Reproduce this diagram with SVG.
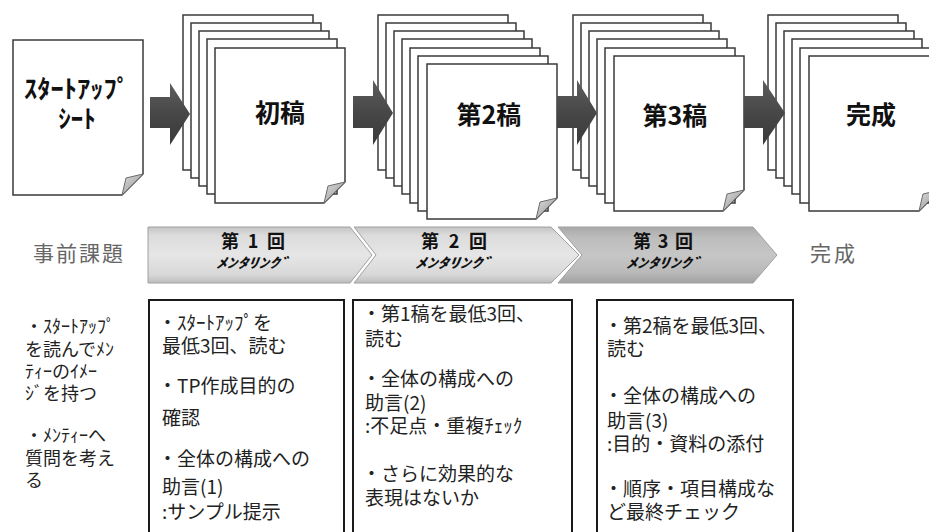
<svg xmlns="http://www.w3.org/2000/svg" width="929" height="532" viewBox="0 0 929 532">
<defs>
<linearGradient id="arrowGrad" x1="0" y1="0" x2="0" y2="1"><stop offset="0" stop-color="#5e5e5e"/><stop offset="0.5" stop-color="#474747"/><stop offset="1" stop-color="#3a3a3a"/></linearGradient>
<linearGradient id="foldGrad" x1="0" y1="0" x2="1" y2="1"><stop offset="0" stop-color="#e0e0e0"/><stop offset="1" stop-color="#8a8a8a"/></linearGradient>
<linearGradient id="bandLight" x1="0" y1="0" x2="0" y2="1"><stop offset="0" stop-color="#c4c4c4"/><stop offset="0.15" stop-color="#dcdcdc"/><stop offset="0.5" stop-color="#e6e6e6"/><stop offset="0.85" stop-color="#d8d8d8"/><stop offset="1" stop-color="#bdbdbd"/></linearGradient>
<linearGradient id="bandDark" x1="0" y1="0" x2="0" y2="1"><stop offset="0" stop-color="#a9a9a9"/><stop offset="0.2" stop-color="#bdbdbd"/><stop offset="0.5" stop-color="#c6c6c6"/><stop offset="0.8" stop-color="#bababa"/><stop offset="1" stop-color="#a2a2a2"/></linearGradient>
</defs>
<style>
.page{fill:#fff;stroke:#3a3a3a;stroke-width:1.5}
.fold{fill:url(#foldGrad);stroke:#6a6a6a;stroke-width:1}
.doc{font-family:"Noto Sans CJK JP",sans-serif;font-weight:bold;font-size:25px;fill:#111;text-anchor:middle}
.box{fill:#fff;stroke:#1a1a1a;stroke-width:2}
.t{font-family:"Noto Sans CJK JP",sans-serif;font-size:19px;fill:#222}
.tl{font-family:"Noto Sans CJK JP",sans-serif;font-size:18px;fill:#222}
.lbl{font-family:"Noto Sans CJK JP",sans-serif;font-size:21px;fill:#666}
.chn{font-family:"Noto Sans CJK JP",sans-serif;font-size:18px;font-weight:bold;fill:#111;text-anchor:middle}
.chs{font-family:"Noto Sans CJK JP",sans-serif;font-size:14px;font-weight:bold;font-style:italic;fill:#111;text-anchor:middle}
.arrow{fill:url(#arrowGrad)}
.band{stroke:#a0a0a0;stroke-width:1}
</style>
<rect width="929" height="532" fill="#fff"/>

<g id="startup-sheet">
<path class="page" d="M13 40 H143 V174 L122 195 H13 Z"/>
<path class="fold" d="M122 195 L126 178 L143 174 Z"/>
<text class="doc" x="77" y="98" font-size="24" textLength="106" lengthAdjust="spacingAndGlyphs">ｽﾀｰﾄｱｯﾌﾟ</text>
<text class="doc" x="77" y="128" font-size="24">ｼｰﾄ</text>
</g>

<g id="draft1">
<rect class="page" x="183" y="15" width="130" height="155"/>
<rect class="page" x="191" y="23" width="130" height="155"/>
<rect class="page" x="199" y="31" width="130" height="155"/>
<rect class="page" x="207" y="39" width="130" height="155"/>
<path class="page" d="M215 48 H345 V182 L324 203 H215 Z"/>
<path class="fold" d="M324 203 L328 186 L345 182 Z"/>
<text class="doc" x="280" y="122">初稿</text>
</g>

<g id="draft2">
<rect class="page" x="378" y="15" width="130" height="155"/>
<rect class="page" x="386" y="23" width="130" height="155"/>
<rect class="page" x="394" y="31" width="130" height="155"/>
<rect class="page" x="402" y="39" width="130" height="155"/>
<rect class="page" x="410" y="48" width="130" height="155"/>
<rect class="page" x="418" y="56" width="130" height="155"/>
<path class="page" d="M427 64 H557 V198 L536 219 H427 Z"/>
<path class="fold" d="M536 219 L540 202 L557 198 Z"/>
<text class="doc" x="489" y="124">第2稿</text>
</g>

<g id="draft3">
<rect class="page" x="573" y="15" width="130" height="155"/>
<rect class="page" x="581" y="23" width="130" height="155"/>
<rect class="page" x="589" y="31" width="130" height="155"/>
<rect class="page" x="597" y="39" width="130" height="155"/>
<rect class="page" x="605" y="48" width="130" height="155"/>
<path class="page" d="M614 56 H744 V190 L723 211 H614 Z"/>
<path class="fold" d="M723 211 L727 194 L744 190 Z"/>
<text class="doc" x="675" y="125">第3稿</text>
</g>

<g id="final">
<rect class="page" x="768" y="15" width="130" height="155"/>
<rect class="page" x="776" y="23" width="130" height="155"/>
<rect class="page" x="784" y="31" width="130" height="155"/>
<rect class="page" x="792" y="39" width="130" height="155"/>
<rect class="page" x="800" y="48" width="130" height="155"/>
<path class="page" d="M809 56 H940 V190 L919 211 H809 Z"/>
<path class="fold" d="M919 211 L923 194 L940 190 Z"/>
<text class="doc" x="871" y="124">完成</text>
</g>

<g id="connectors">
<path class="arrow" d="M150 97 H170 V83 L190 114 L170 145 V128 H150 Z"/>
<path class="arrow" d="M353 96 H373 V80 L393 113 L373 145 V128 H353 Z"/>
<path class="arrow" d="M557 96 H577 V80 L597 113 L577 145 V128 H557 Z"/>
<path class="arrow" d="M744 96 H763 V80 L785 113 L763 145 V128 H744 Z"/>
</g>

<g id="label-pre">
<text class="lbl" x="33" y="261" textLength="90" lengthAdjust="spacing">事前課題</text>
</g>

<g id="mentoring1">
<path class="band" fill="url(#bandLight)" d="M148 227 H350 L372 255 L350 283 H148 Z"/>
<text class="chn" x="253" y="248" textLength="64" lengthAdjust="spacing">第1回</text>
<text class="chs" x="253" y="268" textLength="74" lengthAdjust="spacingAndGlyphs">ﾒﾝﾀﾘﾝｸﾞ</text>
</g>

<g id="mentoring2">
<path class="band" fill="url(#bandLight)" d="M354 227 H551 L579 255 L551 283 H354 L376 255 Z"/>
<text class="chn" x="454" y="248" textLength="66" lengthAdjust="spacing">第2回</text>
<text class="chs" x="454" y="268" textLength="78" lengthAdjust="spacingAndGlyphs">ﾒﾝﾀﾘﾝｸﾞ</text>
</g>

<g id="mentoring3">
<path class="band" fill="url(#bandDark)" d="M558 227 H753 L777 255 L753 283 H558 L582 255 Z"/>
<text class="chn" x="663" y="248" textLength="60" lengthAdjust="spacing">第3回</text>
<text class="chs" x="664" y="268" textLength="76" lengthAdjust="spacingAndGlyphs">ﾒﾝﾀﾘﾝｸﾞ</text>
</g>

<g id="label-done">
<text class="lbl" x="810" y="261" textLength="45" lengthAdjust="spacing">完成</text>
</g>

<g id="pre-tasks">
<text class="tl" x="25" y="333">・ｽﾀｰﾄｱｯﾌﾟ</text>
<text class="tl" x="25" y="356">を読んでﾒﾝ</text>
<text class="tl" x="25" y="378">ﾃｨｰのｲﾒｰ</text>
<text class="tl" x="25" y="400">ｼﾞを持つ</text>
<text class="tl" x="25" y="442">・ﾒﾝﾃｨｰへ</text>
<text class="tl" x="25" y="465">質問を考え</text>
<text class="tl" x="25" y="487">る</text>
</g>

<g id="tasks1">
<rect class="box" x="149" y="300" width="195" height="245"/>
<text class="t" x="158" y="330">・ｽﾀｰﾄｱｯﾌﾟを</text>
<text class="t" x="162" y="353">最低3回、読む</text>
<text class="t" x="158" y="393">・TP作成目的の</text>
<text class="t" x="162" y="425">確認</text>
<text class="t" x="158" y="466">・全体の構成への</text>
<text class="t" x="162" y="494">助言(1)</text>
<text class="t" x="162" y="519">:サンプル提示</text>
</g>

<g id="tasks2">
<rect class="box" x="353" y="300" width="219" height="245"/>
<text class="t" x="362" y="321">・第1稿を最低3回、</text>
<text class="t" x="365" y="346">読む</text>
<text class="t" x="362" y="386">・全体の構成への</text>
<text class="t" x="365" y="410">助言(2)</text>
<text class="t" x="365" y="433">:不足点・重複ﾁｪｯｸ</text>
<text class="t" x="362" y="481">・さらに効果的な</text>
<text class="t" x="365" y="505">表現はないか</text>
</g>

<g id="tasks3">
<rect class="box" x="597" y="300" width="196" height="245"/>
<text class="t" x="604" y="333">・第2稿を最低3回、</text>
<text class="t" x="607" y="356">読む</text>
<text class="t" x="604" y="403">・全体の構成への</text>
<text class="t" x="607" y="428">助言(3)</text>
<text class="t" x="607" y="451">:目的・資料の添付</text>
<text class="t" x="604" y="496">・順序・項目構成な</text>
<text class="t" x="607" y="519">ど最終チェック</text>
</g>
</svg>
